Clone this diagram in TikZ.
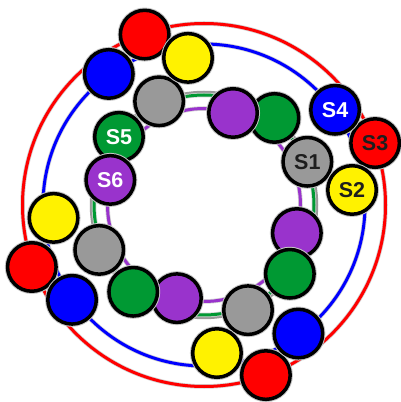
\documentclass[tikz,border=0pt]{standalone}
\usepackage{fontspec}
\setmainfont{Liberation Sans}
\definecolor{ballgray}{RGB}{153,153,153}
\definecolor{ballgreen}{RGB}{0,153,51}
\definecolor{ballpurple}{RGB}{153,51,204}
\definecolor{labeldark}{RGB}{30,30,30}
\tikzset{
    ball/.style={circle, draw=black, line width=3.5pt, minimum size=48.5pt, inner sep=0pt,
        font=\fontsize{21.5}{21.5}\selectfont\bfseries,
        preaction={draw=gray!45, line width=5.5pt}},
    ring/.style={line width=3pt, preaction={draw=gray!35, line width=4.5pt}}
}
\begin{document}
\begin{tikzpicture}[x=1pt, y=1pt]
    \useasboundingbox (0,0) rectangle (401,402);
    \begin{scope}[shift={(204,197)}]
        % Rings
        \draw[gray!80, line width=3.5pt] (0,0) circle (112.5);
        \draw[ring, ballgreen] (0,0) circle (110);
        \draw[ring, ballpurple] (0,0) circle (96.5);
        \draw[ring, blue] (0,0) circle (161);
        \draw[ring, red] (0,0) circle (181.5);

        % Green and purple balls (inner rings)
        \node (grn1) at (51:112) [ball, fill=ballgreen] {};
        \node (pur1) at (72.5:96.5) [ball, fill=ballpurple] {};
        \node (grn2) at (141.3:109) [ball, fill=ballgreen, text=white] {S5};
        \node (pur2) at (165:97) [ball, fill=ballpurple, text=white] {S6};
        \node (pur3) at (253.8:97) [ball, fill=ballpurple] {};
        \node (pur4) at (343.2:97) [ball, fill=ballpurple] {};
        \node (grn3) at (230.8:112) [ball, fill=ballgreen] {};
        \node (grn4) at (321.3:110) [ball, fill=ballgreen] {};

        % Gray balls
        \node (gry1) at (22.7:112) [ball, fill=ballgray, text=labeldark] {S1};
        \node (gry2) at (113.4:113) [ball, fill=ballgray] {};
        \node (gry3) at (203.2:114) [ball, fill=ballgray] {};
        \node (gry4) at (292.7:114) [ball, fill=ballgray] {};

        % Red and yellow balls (between the outer rings)
        \node (red1) at (19.9:182) [ball, fill=red, text=labeldark] {S3};
        \node (red2) at (109.2:180.5) [ball, fill=red] {};
        \node (yel1) at (5.8:148.8) [ball, fill=yellow, text=labeldark] {S2};
        \node (yel2) at (96.2:148) [ball, fill=yellow] {};
        \node (yel3) at (184.9:151) [ball, fill=yellow] {};
        \node (red3) at (199.8:183) [ball, fill=red] {};
        \node (yel4) at (275:148.6) [ball, fill=yellow] {};
        \node (red4) at (290:181) [ball, fill=red] {};

        % Blue balls
        \node (blu1) at (36:162) [ball, fill=blue, text=white] {S4};
        \node (blu2) at (126:162) [ball, fill=blue] {};
        \node (blu3) at (215.7:162.5) [ball, fill=blue] {};
        \node (blu4) at (306.3:159.5) [ball, fill=blue] {};
    \end{scope}
\end{tikzpicture}
\end{document}
